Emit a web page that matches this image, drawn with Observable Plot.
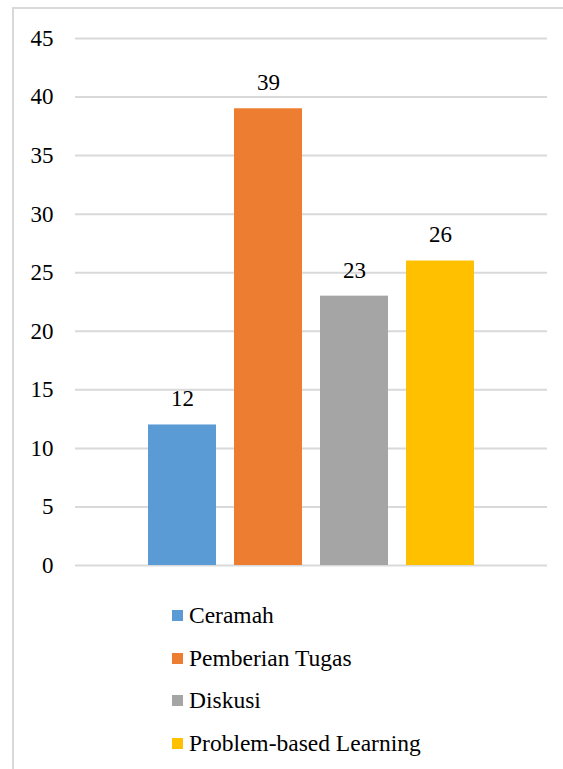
<!DOCTYPE html>
<html>
<head>
<meta charset="utf-8">
<script src="https://cdn.jsdelivr.net/npm/d3@7"></script>
<script src="https://cdn.jsdelivr.net/npm/@observablehq/plot@0.6"></script>
<style>
  html, body { margin: 0; padding: 0; background: #fff; }
  body { width: 563px; height: 769px; position: relative; overflow: hidden; font-family: "Liberation Serif", Tinos, "Nimbus Roman", Times, "DejaVu Serif", serif; }
  #frame { position: absolute; left: 12px; top: 7px; width: 600px; height: 800px; border-left: 2px solid #d9d9d9; border-top: 2px solid #d9d9d9; box-sizing: border-box; }
  #chart { position: absolute; left: 0; top: 0; }
  #legend { position: absolute; left: 172px; top: 594px; }
  .item { height: 42.7px; display: flex; align-items: center; font-size: 23.5px; color: #000; }
  .sw { width: 11px; height: 11px; margin-right: 6px; flex: none; }
  #chart svg text { font-family: "Liberation Serif", Tinos, "Nimbus Roman", Times, "DejaVu Serif", serif; }
</style>
</head>
<body>
<div id="frame"></div>
<div id="chart"></div>
<div id="legend"></div>
<script>
const categories = ["Ceramah", "Pemberian Tugas", "Diskusi", "Problem-based Learning"];
const values = [12, 39, 23, 26];
const colors = ["#5B9BD5", "#ED7D31", "#A5A5A5", "#FFC000"];
const yTicks = [0, 5, 10, 15, 20, 25, 30, 35, 40, 45];

const data = categories.map((c, i) => ({category: c, value: values[i]}));
const serif = "'Liberation Serif', Tinos, 'Nimbus Roman', Times, 'DejaVu Serif', serif";

const chart = Plot.plot({
  width: 563,
  height: 590,
  marginLeft: 75,
  marginRight: 16,
  marginTop: 38,
  marginBottom: 25,
  style: {fontFamily: serif, fontSize: "23px", color: "#000", background: "transparent"},
  x: {domain: categories, paddingInner: 0.2093, paddingOuter: 0.8488, axis: null},
  y: {domain: [0, 45], axis: null},
  color: {domain: categories, range: colors},
  marks: [
    Plot.ruleY(yTicks, {stroke: "#d9d9d9", strokeWidth: 2}),
    Plot.axisY(yTicks, {tickSize: 0, tickPadding: 22, fontSize: 23, fill: "#000", label: null}),
    Plot.barY(data, {x: "category", y: "value", fill: "category"}),
    Plot.text(data, {x: "category", y: "value", text: d => String(d.value), dy: -26, fontSize: 23, fill: "#000"})
  ]
});
document.getElementById("chart").appendChild(chart);

const legend = document.getElementById("legend");
categories.forEach((c, i) => {
  const row = document.createElement("div");
  row.className = "item";
  const sw = document.createElement("span");
  sw.className = "sw";
  sw.style.background = colors[i];
  const t = document.createElement("span");
  t.textContent = c;
  row.appendChild(sw);
  row.appendChild(t);
  legend.appendChild(row);
});
</script>
</body>
</html>
